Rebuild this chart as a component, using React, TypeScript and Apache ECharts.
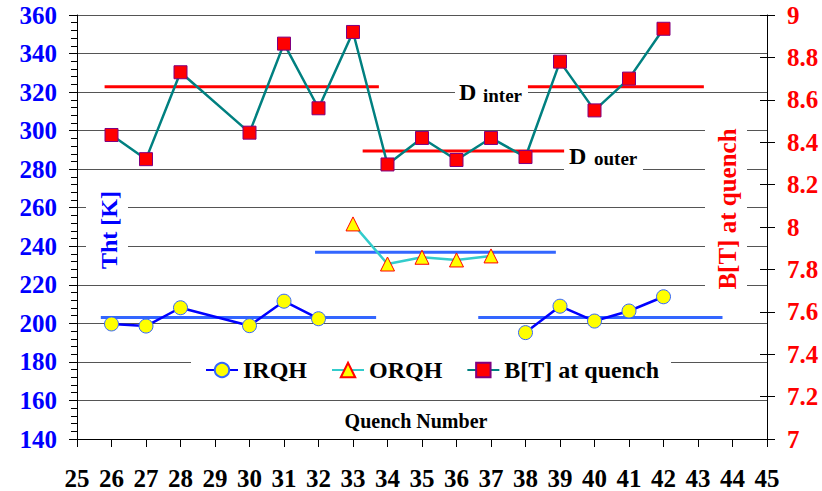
import React, { useEffect, useRef } from "react";
import * as echarts from "echarts";

// Quench numbers and values
const irqhQuenchA = [26, 27, 28, 30, 31, 32];
const irqhTempA = [199.7, 198.6, 208.1, 198.8, 211.5, 202.4];
const irqhQuenchB = [38, 39, 40, 41, 42];
const irqhTempB = [195.2, 208.9, 201.2, 206.4, 213.8];
const orqhQuench = [33, 34, 35, 36, 37];
const orqhTemp = [251.6, 230.8, 234.3, 232.9, 235.0];
const bQuench = [26, 27, 28, 30, 31, 32, 33, 34, 35, 36, 37, 38, 39, 40, 41, 42];
const bField = [8.434, 8.32, 8.73, 8.445, 8.865, 8.56, 8.92, 8.295, 8.42, 8.316, 8.42, 8.33, 8.78, 8.55, 8.7, 8.935];

// Reference (average / limit) lines: [xStart, xEnd, value]
const dInterLines = [
  [25.8, 33.75, 8.662],
  [38.07, 43.17, 8.662],
];
const dOuterLines = [[33.28, 39.12, 8.358]];
const irqhAvgLines = [
  [25.69, 33.67, 203.0],
  [36.63, 43.71, 203.1],
];
const orqhAvgLines = [[31.9, 38.88, 236.9]];

const FONT = "Liberation Serif";
const CSS = `body{margin:0} #chart-host svg text{font-family:"Liberation Serif",serif !important;}`;

const pairs = (xs: number[], ys: number[]) => xs.map((x, i) => [x, ys[i]]);

export default function App() {
  const ref = useRef<HTMLDivElement>(null);
  useEffect(() => {
    if (!ref.current) return;
    document.body.style.margin = "0";
    const chart = echarts.init(ref.current, null, { renderer: "svg" });

    const refSeries = (lines: number[][], color: string, yAxisIndex: number, nm: string) =>
      lines.map((l, i) => ({
        type: "line",
        name: nm + i,
        yAxisIndex,
        data: [
          [l[0], l[2]],
          [l[1], l[2]],
        ],
        symbol: "none",
        lineStyle: { color, width: 3 },
        z: 2,
        silent: true,
      }));

    const irqhStyle = {
      type: "line",
      name: "IRQH",
      yAxisIndex: 0,
      symbol: "circle",
      symbolSize: 14,
      itemStyle: { color: "#ffff00", borderColor: "#3366ff", borderWidth: 1 },
      lineStyle: { color: "#0000ff", width: 2.5 },
      z: 3,
    };

    const ts = (size: number, color: string) => ({
      fill: color,
      fontFamily: FONT,
      fontWeight: "bold",
      fontSize: size,
    });

    const option: any = {
      animation: false,
      textStyle: { fontFamily: FONT },
      grid: { left: 77, right: 55, top: 15, bottom: 52 },
      xAxis: {
        type: "value",
        min: 25,
        max: 45,
        interval: 1,
        axisLine: { lineStyle: { color: "#000", width: 1 } },
        axisTick: { show: true, length: 8, lineStyle: { color: "#000" } },
        axisLabel: { color: "#000", fontFamily: FONT, fontWeight: "bold", fontSize: 25, margin: 27 },
        splitLine: { show: false },
      },
      yAxis: [
        {
          type: "value",
          min: 140,
          max: 360,
          interval: 20,
          position: "left",
          axisLine: { show: true, lineStyle: { color: "#000" } },
          axisTick: { show: true, length: 8, lineStyle: { color: "#000" } },
          minorTick: { show: true, splitNumber: 5, length: 6, lineStyle: { color: "#000" } },
          axisLabel: { color: "#0000ff", fontFamily: FONT, fontWeight: "bold", fontSize: 25, margin: 20 },
          splitLine: { show: true, lineStyle: { color: "#555", width: 1 } },
        },
        {
          type: "value",
          min: 7,
          max: 9,
          interval: 0.2,
          position: "right",
          axisLine: { show: true, lineStyle: { color: "#000" } },
          axisTick: { show: true, length: 8, lineStyle: { color: "#000" } },
          axisLabel: {
            color: "#ff0000",
            fontFamily: FONT,
            fontWeight: "bold",
            fontSize: 25,
            margin: 20,
            formatter: (v: number) => String(Math.round(v * 10) / 10),
          },
          splitLine: { show: false },
        },
        {
          type: "value",
          min: 7,
          max: 9,
          interval: 0.2,
          position: "right",
          axisLine: { show: false },
          axisTick: { show: true, inside: true, length: 7, lineStyle: { color: "#000" } },
          axisLabel: { show: false },
          splitLine: { show: false },
        },
      ],
      legend: {
        data: ["IRQH", "ORQH", "B[T] at quench"],
        left: 191,
        top: 352,
        padding: [6, 12, 6, 14],
        backgroundColor: "#ffffff",
        itemWidth: 32,
        itemHeight: 18,
        itemGap: 24,
        textStyle: { color: "#000", fontFamily: FONT, fontWeight: "bold", fontSize: 24 },
      },
      series: [
        ...refSeries(irqhAvgLines, "#3366ff", 0, "irqhAvg"),
        ...refSeries(orqhAvgLines, "#3366ff", 0, "orqhAvg"),
        ...refSeries(dInterLines, "#ff0000", 1, "dInter"),
        ...refSeries(dOuterLines, "#ff0000", 1, "dOuter"),
        { ...irqhStyle, data: pairs(irqhQuenchA, irqhTempA) },
        { ...irqhStyle, data: pairs(irqhQuenchB, irqhTempB) },
        {
          type: "line",
          name: "ORQH",
          yAxisIndex: 0,
          symbol: "triangle",
          symbolSize: 14,
          itemStyle: { color: "#ffff00", borderColor: "#ff0000", borderWidth: 1 },
          lineStyle: { color: "#33cccc", width: 2.5 },
          data: pairs(orqhQuench, orqhTemp),
          z: 3,
        },
        {
          type: "line",
          name: "B[T] at quench",
          yAxisIndex: 1,
          symbol: "rect",
          symbolSize: 13,
          itemStyle: { color: "#ff0000", borderColor: "#800080", borderWidth: 1 },
          lineStyle: { color: "#008080", width: 2.5 },
          data: pairs(bQuench, bField),
          z: 4,
        },
      ],
      graphic: [
        { type: "rect", z: 1, shape: { x: 86, y: 186, width: 42, height: 88 }, style: { fill: "#fff" } },
        { type: "rect", z: 1, shape: { x: 705, y: 120, width: 42, height: 178 }, style: { fill: "#fff" } },
        { type: "rect", z: 1, shape: { x: 455, y: 82, width: 73, height: 20 }, style: { fill: "#fff" } },
        { type: "rect", z: 1, shape: { x: 564, y: 160, width: 79, height: 18 }, style: { fill: "#fff" } },
        {
          type: "text",
          z: 10,
          x: 109,
          y: 230,
          rotation: Math.PI / 2,
          style: { text: "Tht [K]", ...ts(24, "#0000ff"), align: "center", verticalAlign: "middle" },
        },
        {
          type: "text",
          z: 10,
          x: 727,
          y: 209,
          rotation: Math.PI / 2,
          style: { text: "B[T] at quench", ...ts(25, "#ff0000"), align: "center", verticalAlign: "middle" },
        },
        {
          type: "text",
          z: 10,
          x: 459,
          y: 92,
          style: { text: "D", ...ts(24, "#000"), align: "left", verticalAlign: "middle" },
        },
        {
          type: "text",
          z: 10,
          x: 483,
          y: 95,
          style: { text: "inter", ...ts(19, "#000"), align: "left", verticalAlign: "middle" },
        },
        {
          type: "text",
          z: 10,
          x: 569,
          y: 156,
          style: { text: "D", ...ts(24, "#000"), align: "left", verticalAlign: "middle" },
        },
        {
          type: "text",
          z: 10,
          x: 594,
          y: 158,
          style: { text: "outer", ...ts(19, "#000"), align: "left", verticalAlign: "middle" },
        },
        {
          type: "text",
          z: 10,
          x: 416,
          y: 421,
          style: { text: "Quench Number", ...ts(20, "#000"), align: "center", verticalAlign: "middle" },
        },
      ],
    };
    chart.setOption(option);
    return () => chart.dispose();
  }, []);
  return (
    <div id="chart-host">
      <style>{CSS}</style>
      <div ref={ref} style={{ position: "absolute", left: 0, top: 0, width: 822, height: 491 }} />
    </div>
  );
}
